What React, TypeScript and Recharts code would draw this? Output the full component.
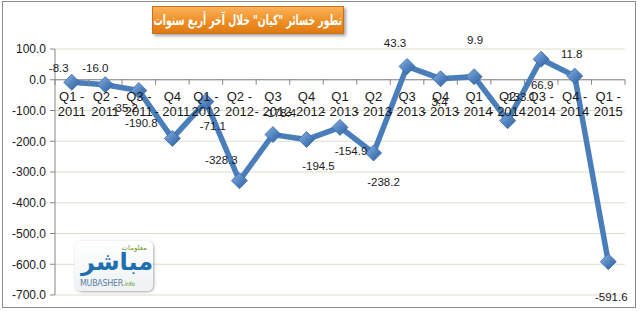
import React from "react";
import { LineChart, Line, XAxis, YAxis, CartesianGrid, ReferenceLine } from "recharts";

// quarter labels, wrapped the way the original chart shows them
const quarters = [
  "Q1 -\n2011", "Q2 -\n2011", "Q3 -\n2011", "Q4\n- 2011",
  "Q1 -\n2012", "Q2 -\n2012", "Q3\n- 2012", "Q4\n- 2012",
  "Q1\n- 2013", "Q2\n- 2013", "Q3\n- 2013", "Q4\n- 2013",
  "Q1\n- 2014", "Q2\n- 2014", "Q3 -\n2014", "Q4 -\n2014", "Q1 -\n2015",
];

// net loss per quarter
const losses = [
  -8.3, -16.0, -35.2, -190.8, -71.1, -328.3, -178.4, -194.5,
  -154.9, -238.2, 43.3, 3.4, 9.9, -133.1, 66.9, 11.8, -591.6,
];

const yTicks = [100, 0, -100, -200, -300, -400, -500, -600, -700];

// where each value label sits relative to its point (dx, dy)
const labelOffsets = [
  [-13, -14], [-10, -17], [-14, 17], [-31, -15], [7, 24], [-18, -21],
  [7, -22], [12, 26], [11, 24], [10, 29], [-12, -23], [-1, 23],
  [1, -37], [12, -24], [1, 26], [-3, -22], [3, 35],
];

const data = quarters.map((q, i) => ({ quarter: q, loss: losses[i] }));

const W = 640;
const H = 311;
const MARGIN = { top: 49, right: 15, bottom: 15, left: 0 };
const Y_AXIS_W = 55;
const X_AXIS_H = 1;
const PLOT_H = H - MARGIN.top - MARGIN.bottom - X_AXIS_H;
const PLOT_W = W - MARGIN.left - MARGIN.right - Y_AXIS_W;
const Y_MAX = yTicks[0];
const Y_MIN = yTicks[yTicks.length - 1];
const ZERO_Y = MARGIN.top + (PLOT_H * Y_MAX) / (Y_MAX - Y_MIN);
const BAND = PLOT_W / quarters.length;

const FONT = "'Liberation Sans', Arial, sans-serif";
const AXIS = "#868686";
const LINE = "#4a7ebb";

function QuarterTick(props: any) {
  const { x, index, payload } = props;
  const lines = String(payload.value).split("\n");
  const left = x - BAND / 2;
  return (
    <g>
      <line x1={left} x2={left} y1={ZERO_Y} y2={ZERO_Y + 5} stroke={AXIS} />
      {index === quarters.length - 1 && (
        <line x1={x + BAND / 2} x2={x + BAND / 2} y1={ZERO_Y} y2={ZERO_Y + 5} stroke={AXIS} />
      )}
      {lines.map((t, k) => (
        <text
          key={k}
          x={x}
          y={ZERO_Y + 21 + k * 15}
          textAnchor="middle"
          fontSize={13}
          fontFamily={FONT}
          fill="#1a1a1a"
        >
          {t}
        </text>
      ))}
    </g>
  );
}

function Diamond(props: any) {
  const { cx, cy, index } = props;
  const r = 8;
  return (
    <polygon
      key={`d-${index}`}
      points={`${cx},${cy - r} ${cx + r},${cy} ${cx},${cy + r} ${cx - r},${cy}`}
      fill="url(#diamondFill)"
      stroke="#3a6aa6"
      strokeWidth={0.8}
    />
  );
}

function ValueLabel(props: any) {
  const { x, y, value, index } = props;
  const [dx, dy] = labelOffsets[index] || [0, -14];
  return (
    <text
      key={`l-${index}`}
      x={x + dx}
      y={y + dy}
      dy={4}
      textAnchor="middle"
      fontSize={11.5}
      fontFamily={FONT}
      fill="#1a1a1a"
    >
      {Number(value).toFixed(1)}
    </text>
  );
}

function Logo() {
  return (
    <div
      style={{
        position: "absolute",
        left: 75,
        top: 241,
        width: 78,
        height: 50,
        borderRadius: 6,
        background: "linear-gradient(#ffffff, #eef2f4)",
        boxShadow: "1px 1px 3px rgba(0,0,0,0.35)",
        fontFamily: "'DejaVu Sans', sans-serif",
      }}
    >
      <div style={{ position: "absolute", right: 6, top: 3, fontSize: 7, color: "#6a9a2a" }}>معلومات</div>
      <div
        style={{
          position: "absolute",
          left: 6,
          top: 7,
          fontSize: 24,
          fontWeight: "bold",
          color: "#1d6fb0",
          direction: "rtl",
          lineHeight: "28px",
        }}
      >
        مباشر
      </div>
      <div style={{ position: "absolute", left: 5, bottom: 3, fontSize: 8, color: "#5a7fa5", letterSpacing: -0.3 }}>
        MUBASHER<span style={{ color: "#6a9a2a", fontSize: 6 }}>.info</span>
      </div>
    </div>
  );
}

export default function App() {
  return (
    <div style={{ position: "absolute", left: 0, top: 0, width: W, height: H, background: "#fff", overflow: "hidden" }}>
      <div
        style={{
          position: "absolute",
          left: 2,
          top: 1,
          width: 634,
          height: 307,
          border: "1px solid #8c8c8c",
          boxSizing: "border-box",
        }}
      />
      <LineChart width={W} height={H} data={data} margin={MARGIN}>
        <defs>
          <linearGradient id="diamondFill" x1="0" y1="0" x2="1" y2="1">
            <stop offset="0%" stopColor="#8db3e6" />
            <stop offset="55%" stopColor="#4f81bd" />
            <stop offset="100%" stopColor="#2f5e9a" />
          </linearGradient>
        </defs>
        <CartesianGrid vertical={false} stroke="#e0dccb" strokeWidth={1} />
        <XAxis
          dataKey="quarter"
          height={X_AXIS_H}
          axisLine={false}
          tickLine={false}
          interval={0}
          padding={{ left: BAND / 2, right: BAND / 2 }}
          tick={<QuarterTick />}
        />
        <YAxis
          width={Y_AXIS_W}
          domain={[Y_MIN, Y_MAX]}
          ticks={yTicks}
          interval={0}
          tickFormatter={(v: number) => v.toFixed(1)}
          tick={{ fontSize: 12, fontFamily: FONT, fill: "#1a1a1a" }}
          axisLine={{ stroke: AXIS }}
          tickLine={{ stroke: AXIS }}
          tickSize={5}
          tickMargin={4}
        />
        <ReferenceLine y={0} stroke={AXIS} strokeWidth={1} />
        <Line
          type="linear"
          dataKey="loss"
          stroke={LINE}
          strokeWidth={5.5}
          dot={Diamond}
          activeDot={false}
          label={ValueLabel}
          isAnimationActive={false}
        />
      </LineChart>
      <div
        style={{
          position: "absolute",
          left: 152,
          top: 6,
          width: 192,
          height: 28,
          background: "linear-gradient(#f9b25a, #ee8f25 55%, #e07a12)",
          border: "1px solid #c8701a",
          boxSizing: "border-box",
          boxShadow: "2px 2px 3px rgba(0,0,0,0.35)",
          overflow: "hidden",
          textAlign: "center",
        }}
      >
        <span
          style={{
            display: "inline-block",
            color: "#fff",
            fontFamily: "'DejaVu Sans', sans-serif",
            fontWeight: "bold",
            fontSize: 14,
            direction: "rtl",
            lineHeight: "26px",
            whiteSpace: "nowrap",
            transform: "scaleX(0.66)",
            transformOrigin: "center",
            marginLeft: -100,
            marginRight: -100,
          }}
        >
          تطور خسائر "كيان" خلال آخر أربع سنوات
        </span>
      </div>
      <Logo />
    </div>
  );
}
